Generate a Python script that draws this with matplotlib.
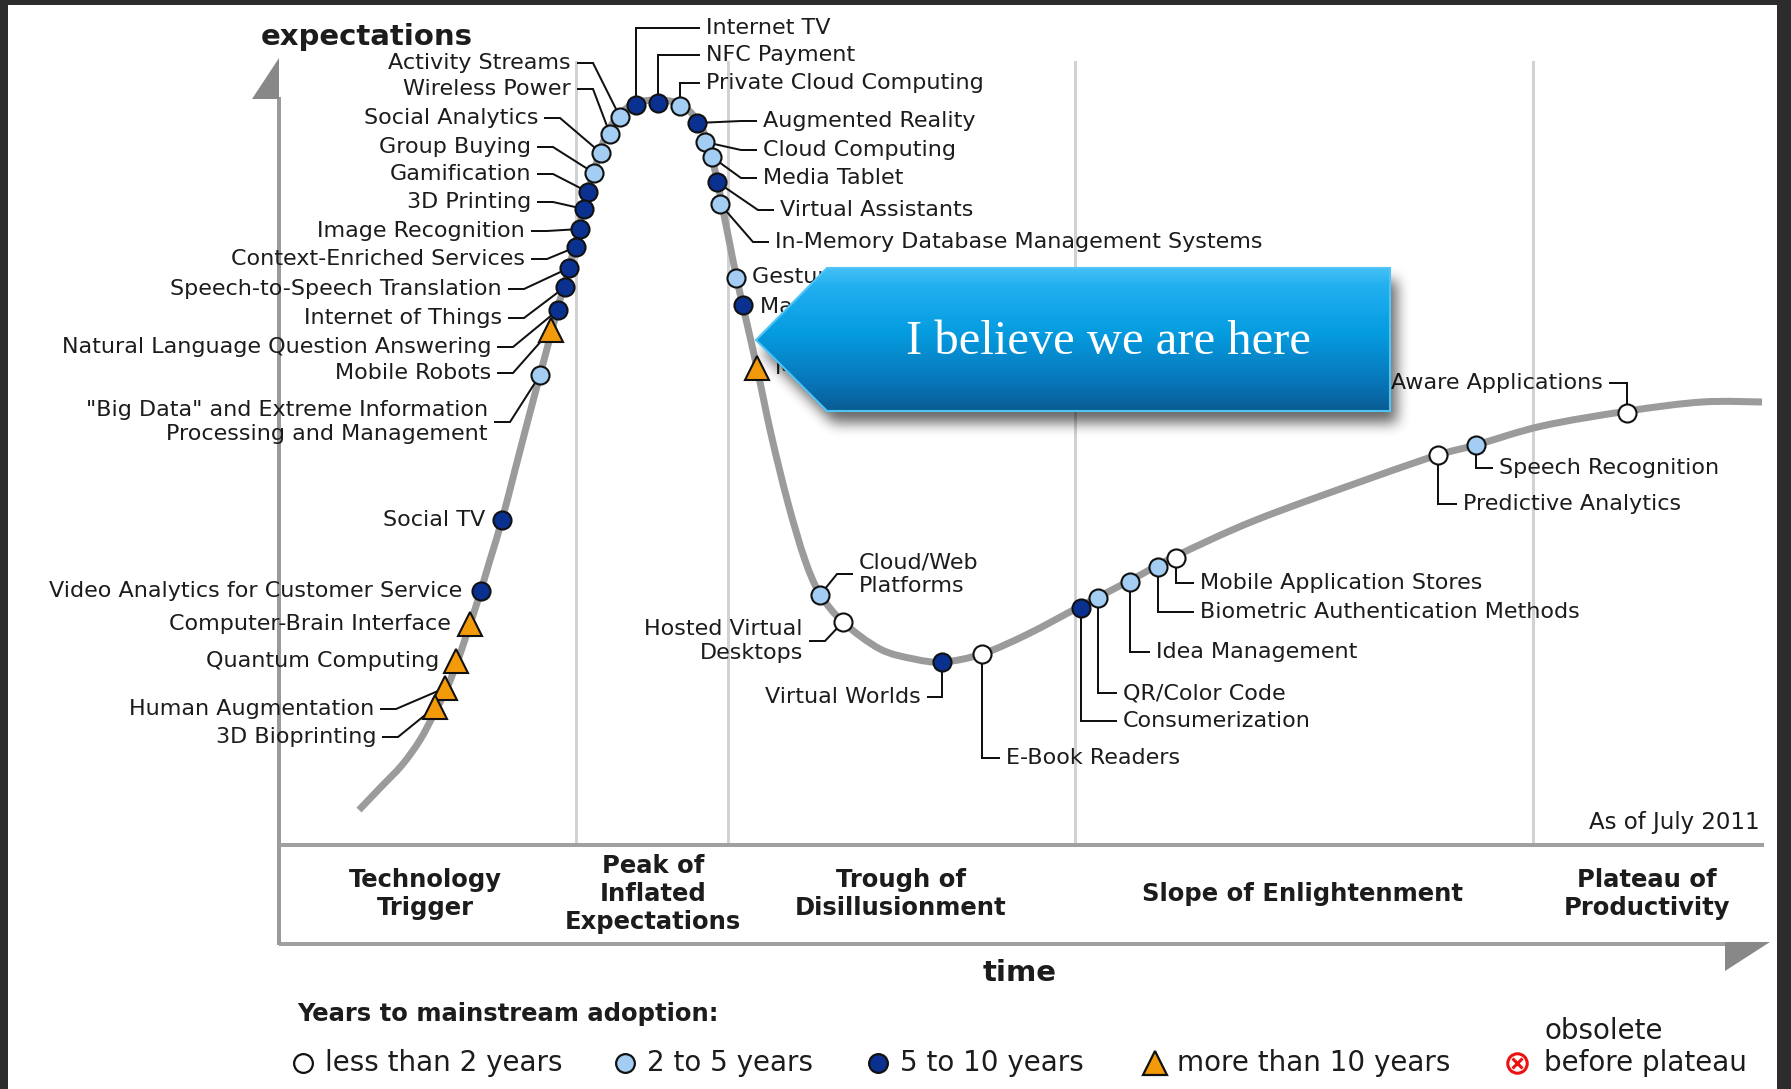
import numpy as np
import matplotlib
matplotlib.use("Agg")
import matplotlib.pyplot as plt
from matplotlib.patches import Polygon, Rectangle, PathPatch
from matplotlib.path import Path

W, H = 1791, 1089
PX = 0.72  # points per pixel at dpi 100

# ---------------- data (image pixel units: x = time, y = expectations, y downwards) -------------
curve_x = [359, 380, 402, 420, 435, 447, 458, 468, 478, 490, 502, 515, 528, 540, 552, 560, 567,
           575, 582, 590, 598, 607, 620, 636, 658, 680, 697, 708, 716, 722, 729, 737, 745, 757,
           771, 788, 805, 820, 843, 880, 914, 943, 982, 1028, 1081, 1131, 1176, 1256, 1371,
           1438, 1476, 1542, 1628, 1702, 1762]
curve_y = [810, 788, 765, 740, 712, 688, 660, 630, 600, 560, 520, 470, 420, 375, 330, 300, 275,
           245, 215, 185, 158, 133, 114, 103, 100, 104, 120, 143, 175, 205, 240, 280, 315, 368,
           434, 503, 560, 594, 622, 649, 659, 662, 654, 634, 606, 580, 556, 520, 478,
           455, 445, 426, 411, 402, 402]

tech_names = [
    "Activity Streams", "Wireless Power", "Social Analytics", "Group Buying", "Gamification",
    "3D Printing", "Image Recognition", "Context-Enriched Services",
    "Speech-to-Speech Translation", "Internet of Things",
    "Natural Language Question Answering", "Mobile Robots",
    "\"Big Data\" and Extreme Information\nProcessing and Management",
    "Social TV", "Video Analytics for Customer Service", "Computer-Brain Interface",
    "Quantum Computing", "Human Augmentation", "3D Bioprinting",
    "Internet TV", "NFC Payment", "Private Cloud Computing",
    "Augmented Reality", "Cloud Computing", "Media Tablet", "Virtual Assistants",
    "In-Memory Database Management Systems", "Gesture Recognition",
    "Machine-to-Machine Communication Services", "Mesh Networks: Sensor",
    "Cloud/Web\nPlatforms", "Hosted Virtual\nDesktops", "Virtual Worlds", "E-Book Readers",
    "Consumerization", "QR/Color Code", "Idea Management",
    "Biometric Authentication Methods", "Mobile Application Stores",
    "Predictive Analytics", "Speech Recognition", "Location-Aware Applications",
]
tech_x = [620, 610, 601, 594, 588, 584, 580, 576, 569, 565, 558, 551, 540,
          502, 481, 470, 456, 445, 435,
          636, 658, 680,
          697, 705, 712, 717, 720, 736, 743, 757,
          820, 843, 942, 982, 1081, 1098, 1130, 1158, 1176, 1438, 1476, 1627]
tech_y = [117, 134, 153, 173, 192, 209, 229, 247, 268, 287, 310, 330, 375,
          520, 591, 624, 661, 688, 707,
          105, 103, 106,
          123, 142, 157, 182, 204, 278, 305, 368,
          595, 622, 662, 654, 608, 598, 582, 567, 558, 455, 445, 413]
tech_cat = ["2-5", "2-5", "2-5", "2-5", "5-10", "5-10", "5-10", "5-10", "5-10", "5-10", "5-10",
            ">10", "2-5",
            "5-10", "5-10", ">10", ">10", ">10", ">10",
            "5-10", "5-10", "2-5",
            "5-10", "2-5", "2-5", "5-10", "2-5", "2-5", "5-10", ">10",
            "2-5", "<2", "5-10", "<2", "5-10", "2-5", "2-5", "2-5", "<2", "<2", "2-5", "<2"]
label_x = [571, 571, 538, 531, 531, 531, 525, 525, 502, 502, 491, 491, 488,
           485, 462, 451, 439, 374, 376,
           706, 706, 706,
           763, 763, 763, 780, 775, 752, 760, 775,
           859, 803, 921, 1006, 1123, 1123, 1156, 1200, 1200, 1463, 1499, 1603]
label_y = [63, 89, 118, 147, 174, 202, 231, 259, 289, 318, 347, 373, 422,
           520, 591, 624, 661, 709, 737,
           28, 55, 83,
           121, 150, 178, 210, 242, 277, 307, 368,
           574, 641, 697, 758, 721, 693, 652, 612, 583, 504, 468, 383]
# leader type: L = label left of marker with diagonal, NL/NR = no leader,
# R = label right with diagonal, U/D = elbow to a label on the right, DL/UL = elbow to a label on the left
leader = ["L"] * 13 + ["NL", "NL", "NL", "NL", "L", "L"] + ["U", "U", "U"] + \
         ["R", "R", "R", "R", "R", "NR", "NR", "NR"] + \
         ["R", "L", "DL", "D", "D", "D", "D", "D", "D", "D", "D", "UL"]

phase_names = ["Technology\nTrigger", "Peak of\nInflated\nExpectations",
               "Trough of\nDisillusionment", "Slope of Enlightenment", "Plateau of\nProductivity"]
phase_x = [425, 653, 901, 1303, 1647]
phase_bounds = [576, 728, 1075, 1533]

legend_cats = ["<2", "2-5", "5-10", ">10", "obsolete"]
legend_labels = ["less than 2 years", "2 to 5 years", "5 to 10 years", "more than 10 years",
                 "before plateau"]
legend_x = [303, 625, 878, 1155, 1517]

callout_text = "I believe we are here"

# ---------------- styles -----------------------------------------------------------------------
cat_style = {"<2": ("o", "white"), "2-5": ("o", "#a3cdf2"), "5-10": ("o", "#0a3190"),
             ">10": ("^", "#f39a0b")}
TXT = "#1c1c1c"
FS = 16

fig = plt.figure(figsize=(W / 100, H / 100), dpi=100)
fig.patch.set_facecolor("#2c2c2c")
ax = fig.add_axes([0, 0, 1, 1])
ax.set_xlim(0, W)
ax.set_ylim(H, 0)
ax.axis("off")

ax.add_patch(Rectangle((8, 5), 1769, H, facecolor="white", edgecolor="none", zorder=0))

# phase boundaries
for xb in phase_bounds:
    ax.plot([xb, xb], [62, 845], color="#d2d2d2", lw=3 * PX, zorder=1)

# axes
ax.plot([279, 279], [97, 945], color="#9a9a9a", lw=4 * PX, zorder=1, solid_capstyle="butt")
ax.add_patch(Polygon([(279, 58), (252, 99), (279, 99)], closed=True, facecolor="#888888",
                     edgecolor="none", zorder=1))
ax.plot([279, 1764], [845, 845], color="#a0a0a0", lw=4 * PX, zorder=1, solid_capstyle="butt")
ax.plot([279, 1730], [944, 944], color="#a0a0a0", lw=4 * PX, zorder=1, solid_capstyle="butt")
ax.add_patch(Polygon([(1725, 942), (1770, 942), (1725, 971)], closed=True, facecolor="#888888",
                     edgecolor="none", zorder=1))

ax.text(261, 37, "expectations", fontsize=21, fontweight="bold", color=TXT, ha="left",
        va="center", zorder=3)
ax.text(1020, 973, "time", fontsize=21, fontweight="bold", color=TXT, ha="center",
        va="center", zorder=3)
ax.text(1760, 823, "As of July 2011", fontsize=16.5, color=TXT, ha="right", va="center", zorder=3)

for name, xc in zip(phase_names, phase_x):
    ax.text(xc, 894, name, fontsize=17.5, fontweight="bold", color=TXT, ha="center",
            va="center", linespacing=1.2, zorder=3)


# hype curve, drawn as a smooth Catmull-Rom / Bezier path through the read points
def smooth_path(xs, ys):
    P = np.column_stack([xs, ys]).astype(float)
    verts = [P[0]]
    codes = [Path.MOVETO]
    n = len(P)
    for i in range(n - 1):
        p0 = P[i - 1] if i > 0 else P[i]
        p1, p2 = P[i], P[i + 1]
        p3 = P[i + 2] if i + 2 < n else P[i + 1]
        verts += [p1 + (p2 - p0) / 6.0, p2 - (p3 - p1) / 6.0, p2]
        codes += [Path.CURVE4] * 3
    return Path(verts, codes)


ax.add_patch(PathPatch(smooth_path(curve_x, curve_y), facecolor="none", edgecolor="#9b9b9b",
                       lw=7 * PX, capstyle="butt", joinstyle="round", zorder=2))

# leaders, markers, labels
for name, mx, my, cat, lx, ly, ld in zip(tech_names, tech_x, tech_y, tech_cat, label_x,
                                          label_y, leader):
    if ld == "L":
        pts = [(lx + 7, ly), (lx + 22, ly), (mx, my)]
    elif ld == "R":
        pts = [(mx, my), (lx - 22, ly), (lx - 7, ly)]
    elif ld in ("U", "D"):
        pts = [(mx, my), (mx, ly), (lx - 7, ly)]
    elif ld in ("DL", "UL"):
        pts = [(mx, my), (mx, ly), (lx + 7, ly)]
    else:
        pts = None
    if pts is not None:
        px, py = zip(*pts)
        ax.plot(px, py, color="#111111", lw=2 * PX, zorder=3, solid_joinstyle="miter")
    mk, fc = cat_style[cat]
    ms = 17 if mk == "^" else 13
    ax.plot([mx], [my], marker=mk, markersize=ms, markerfacecolor=fc,
            markeredgecolor="#111111", markeredgewidth=1.5, linestyle="none", zorder=4)
    ha = "right" if ld in ("L", "NL", "DL", "UL") else "left"
    ax.text(lx, ly, name, fontsize=FS, color=TXT, ha=ha, va="center", linespacing=1.2,
            zorder=3)

# legend
ax.text(297, 1014, "Years to mainstream adoption:", fontsize=17.5, fontweight="bold",
        color=TXT, ha="left", va="center", zorder=3)
for cat, lab, lxp in zip(legend_cats, legend_labels, legend_x):
    if cat == "obsolete":
        ax.plot([lxp], [1063], marker="o", markersize=14, markerfacecolor="white",
                markeredgecolor="#ee1111", markeredgewidth=2.2, linestyle="none", zorder=4)
        ax.plot([lxp], [1063], marker="x", markersize=7, markeredgecolor="#ee1111",
                markeredgewidth=2.2, linestyle="none", zorder=4)
        ax.text(lxp + 27, 1031, "obsolete", fontsize=20, color=TXT, ha="left", va="center",
                zorder=3)
    else:
        mk, fc = cat_style[cat]
        ax.plot([lxp], [1063], marker=mk, markersize=17 if mk == "^" else 13.5,
                markerfacecolor=fc, markeredgecolor="#111111", markeredgewidth=1.6,
                linestyle="none", zorder=4)
    ax.text(lxp + 22 if cat != "obsolete" else lxp + 27, 1063, lab, fontsize=20, color=TXT,
            ha="left", va="center", zorder=3)

# ---------------- callout -----------------------------------------------------------------------
call_poly = [(756, 340), (827, 268), (1390, 268), (1390, 411), (827, 411)]

# soft shadow
sx0, sx1, sy0, sy1 = 720, 1460, 230, 470
gx, gy = np.meshgrid(np.arange(sx0, sx1) + 0.5, np.arange(sy0, sy1) + 0.5)
shadow_path = Path([(x + 7, y + 12) for x, y in call_poly] + [call_poly[0]], closed=True)
mask = shadow_path.contains_points(np.c_[gx.ravel(), gy.ravel()]).reshape(gx.shape).astype(float)


def box_blur(a, r, axis):
    pad = [(0, 0), (0, 0)]
    pad[axis] = (r + 1, r)
    c = np.cumsum(np.pad(a, pad), axis=axis)
    if axis == 0:
        return (c[2 * r + 1:, :] - c[:-2 * r - 1, :]) / (2 * r + 1)
    return (c[:, 2 * r + 1:] - c[:, :-2 * r - 1]) / (2 * r + 1)


for _ in range(3):
    mask = box_blur(box_blur(mask, 6, 0), 6, 1)
shadow = np.zeros(mask.shape + (4,))
shadow[..., 3] = mask * 0.6
ax.imshow(shadow, extent=(sx0, sx1, sy1, sy0), origin="upper", aspect="auto",
          interpolation="bilinear", zorder=6)

# gradient body
stops = np.array([0.0, 0.12, 0.45, 0.8, 1.0])
cols = np.array([[0x45, 0xc0, 0xf6], [0x22, 0xb0, 0xf0], [0x05, 0x9c, 0xe0],
                 [0x07, 0x76, 0xb8], [0x0a, 0x5b, 0x93]]) / 255.0
tt = np.linspace(0, 1, 256)
grad = np.stack([np.interp(tt, stops, cols[:, k]) for k in range(3)], axis=-1)[:, None, :]
body = Polygon(call_poly, closed=True, facecolor="none", edgecolor="#4fc4f5", lw=1.5,
               zorder=8)
ax.add_patch(body)
im = ax.imshow(grad, extent=(756, 1390, 411, 268), origin="upper", aspect="auto",
               interpolation="bilinear", zorder=7)
im.set_clip_path(body)
ax.text(1108, 342, callout_text, fontsize=35, color="white", family="Liberation Serif",
        ha="center", va="center", zorder=9)

ax.set_xlim(0, W)
ax.set_ylim(H, 0)
fig.savefig("out.png", dpi=100, facecolor=fig.get_facecolor())
